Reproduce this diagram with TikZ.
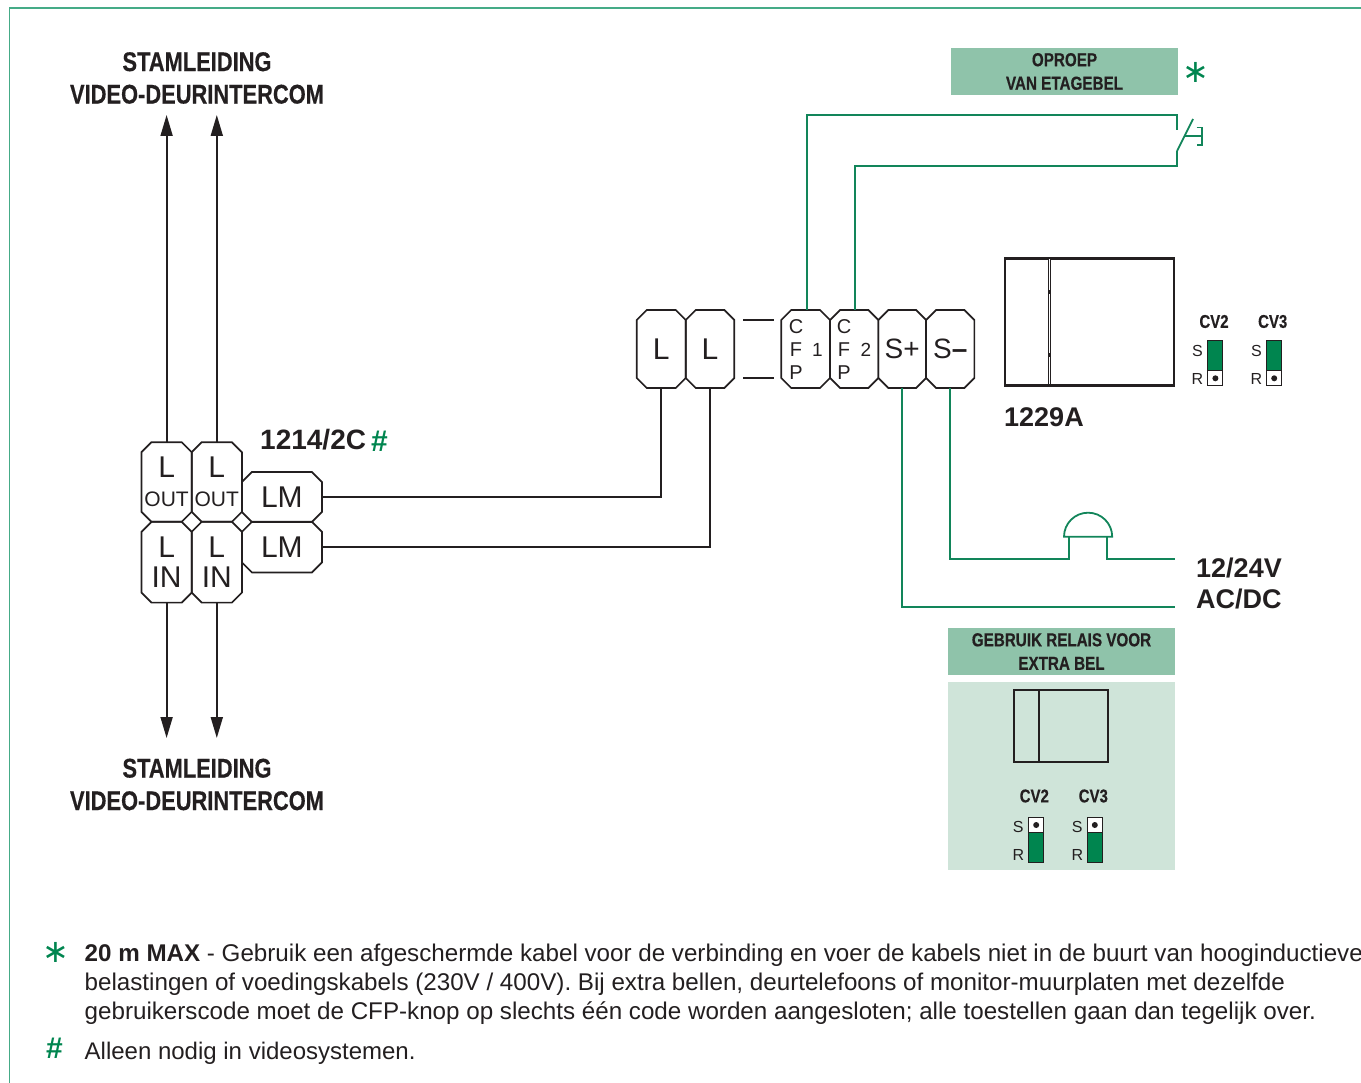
\documentclass[tikz,border=0pt]{standalone}
\usepackage{fontspec}
\setmainfont{Liberation Sans}
\newfontfamily\narrowfont{Liberation Sans}[FakeStretch=0.81,BoldFeatures={FakeBold=0.4}]
\newfontfamily\symfont{DejaVu Sans}
\usetikzlibrary{arrows.meta}
\definecolor{wiregreen}{HTML}{12855A}
\definecolor{jumpgreen}{HTML}{00854F}
\definecolor{framegreen}{HTML}{45AB87}
\definecolor{headgreen}{HTML}{8FC3AA}
\definecolor{palegreen}{HTML}{CFE4D9}
\definecolor{ink}{HTML}{231F20}
\newcommand{\fsz}[2]{\fontsize{#1}{#2}\selectfont}
% octagonal outline drawn on the corners of a named terminal node
\newcommand{\octagon}[1]{%
  \draw[termline]
    ([xshift=10pt]#1.north west) -- ([xshift=-10pt]#1.north east)
    -- ([yshift=-10pt]#1.north east) -- ([yshift=10pt]#1.south east)
    -- ([xshift=-10pt]#1.south east) -- ([xshift=10pt]#1.south west)
    -- ([yshift=10pt]#1.south west) -- ([yshift=-10pt]#1.north west) -- cycle;}
\tikzset{
  term/.style={rectangle,inner sep=0pt,outer sep=0pt,text=ink,align=center,font=\fsz{30}{30}},
  termline/.style={draw=ink,line width=1.7pt,line join=miter},
  wire/.style={draw=ink,line width=1.9pt},
  gwire/.style={draw=wiregreen,line width=1.8pt},
  headbox/.style={fill=headgreen,inner sep=0pt,outer sep=0pt,text=ink,align=center,font=\narrowfont\bfseries\fsz{18.8}{23.5}},
  title/.style={text=ink,align=center,inner sep=0pt,font=\narrowfont\bfseries\fsz{27}{32.5}},
  boldlabel/.style={text=ink,anchor=west,inner sep=0pt,align=left,font=\bfseries\fsz{27}{31}},
  cvlabel/.style={text=ink,inner sep=0pt,font=\narrowfont\bfseries\fsz{18.5}{18.5}},
  srlabel/.style={text=ink,inner sep=0pt,font=\fsz{16}{16}},
  device/.style={draw=ink,inner sep=0pt,outer sep=0pt},
  jumper/.style={draw=ink,fill=white,line width=1pt,inner sep=0pt,outer sep=0pt,minimum width=15pt,minimum height=45pt},
  jumpfill/.style={draw=ink,fill=jumpgreen,line width=1pt},
  jumpdot/.style={circle,fill=ink,inner sep=0pt,minimum size=6pt},
  bodytext/.style={text=ink,anchor=base west,inner sep=0pt,font=\fsz{24.18}{29}},
  sym/.style={text=jumpgreen,inner sep=0pt},
  stem/.style={wire,-{Triangle[length=21pt,width=12pt]}}
}
\begin{document}
\begin{tikzpicture}[x=1pt,y=-1pt]
\useasboundingbox (0,0) rectangle (1361,1083);
% frame
\coordinate (frameA) at (9.5,1083);
\coordinate (frameB) at (9.5,8);
\coordinate (frameC) at (1361,8);
\draw[framegreen,line width=1.1pt] (frameA) -- (frameB) -- (frameC);

% titles
\node[title] (toptitle) at (197,78) {STAMLEIDING\\VIDEO-DEURINTERCOM};
\node[title] (bottitle) at (197,784.5) {STAMLEIDING\\VIDEO-DEURINTERCOM};

% riser terminals
\node[term,minimum width=50.2pt,minimum height=79.6pt] (o1) at (166.6,482) {L\\[-0.5pt]{\fsz{21}{27}OUT}};
\node[term,minimum width=50.2pt,minimum height=79.6pt] (o2) at (216.8,482) {L\\[-0.5pt]{\fsz{21}{27}OUT}};
\node[term,minimum width=50.2pt,minimum height=80.8pt] (i1) at (166.6,562.2) {\fsz{30}{32}L\\IN};
\node[term,minimum width=50.2pt,minimum height=80.8pt] (i2) at (216.8,562.2) {\fsz{30}{32}L\\IN};
\node[term,minimum width=80pt,minimum height=50pt] (lm1) at (281.9,497) {LM};
\node[term,minimum width=80pt,minimum height=50.6pt] (lm2) at (281.9,547.1) {LM};
\foreach \t in {o1,o2,i1,i2,lm1,lm2} {\octagon{\t}}

% riser arrows
\coordinate (upA) at (166.6,115);
\coordinate (upB) at (216.8,115);
\coordinate (dnA) at (166.6,738);
\coordinate (dnB) at (216.8,738);
\draw[stem] (o1.north) -- (upA);
\draw[stem] (o2.north) -- (upB);
\draw[stem] (i1.south) -- (dnA);
\draw[stem] (i2.south) -- (dnB);

\node[boldlabel,font=\bfseries\fsz{28}{31}] (code1) at (260,440) {1214/2C};
\node[sym,font=\bfseries\fsz{30}{30},anchor=center] (code1m) at (379.5,441) {\#};

% monitor terminals
\node[term,minimum width=49pt,minimum height=78pt] (l1) at (661.2,349) {L};
\node[term,minimum width=48.6pt,minimum height=78pt] (l2) at (710,349) {L};
\node[term,minimum width=48.7pt,minimum height=78pt] (c1) at (805.6,349) {};
\node[term,minimum width=48.3pt,minimum height=78pt] (c2) at (854.2,349) {};
\node[term,minimum width=47.7pt,minimum height=78pt,font=\fsz{28}{28}] (sp) at (902.2,349) {S+};
\node[term,minimum width=48.3pt,minimum height=78pt,font=\fsz{28}{28}] (sm) at (950.2,349) {S{\bfseries –}};
\foreach \t in {l1,l2,c1,c2,sp,sm} {\octagon{\t}}

\node[text=ink,inner sep=0pt,align=center,font=\fsz{20}{22.7}] (c1t) at (796,349.5) {C\\F\\P};
\node[text=ink,inner sep=0pt,align=center,font=\fsz{20}{22.7}] (c2t) at (844,349.5) {C\\F\\P};
\node[text=ink,inner sep=0pt,font=\fsz{19}{19}] (c1n) at (817.5,350) {1};
\node[text=ink,inner sep=0pt,font=\fsz{19}{19}] (c2n) at (866,350) {2};

\coordinate (gapA1) at (743,320);
\coordinate (gapA2) at (774,320);
\coordinate (gapB1) at (743,378);
\coordinate (gapB2) at (774,378);
\draw[wire] (gapA1) -- (gapA2);
\draw[wire] (gapB1) -- (gapB2);

% backbone wires
\draw[wire] (lm1.east) -| (l1.south);
\draw[wire] (lm2.east) -| (l2.south);

% floor call
\node[headbox,minimum width=227pt,minimum height=47pt] (hd1) at (1064.5,71.5) {OPROEP\\VAN ETAGEBEL};
\node[sym,font=\symfont\fsz{32}{32}] (hd1m) at (1195.7,72) {∗};
\coordinate (swTop) at (1177,130);
\coordinate (swBot) at (1177,151);
\coordinate (swTip) at (1193,119);
\coordinate (swBar) at (1185,136);
\coordinate (swEnd) at (1201.7,136);
\draw[gwire] ([xshift=1pt]c1.north) |- (swTop |- 0,115) -- (swTop);
\draw[gwire] ([xshift=1pt]c2.north) |- (swBot |- 0,166) -- (swBot);
\draw[gwire] (swBot) -- (swTip);
\draw[gwire] (swBar) -- (swEnd);
\draw[gwire] (1196.7,127.5) -- (swEnd |- 0,127.5) -- (swEnd |- 0,145.3) -- (1196.7,145.3);

% device 1229A
\node[device,line width=2.6pt,minimum width=169pt,minimum height=127.4pt] (mon) at (1089.5,322) {};
\draw[ink,line width=2.8pt] (mon.north west -| 1049.5,0) -- (mon.south west -| 1049.5,0);
\draw[white,line width=1pt] (1049.5,259.5) -- (1049.5,290);
\draw[white,line width=1pt] (1049.5,294) -- (1049.5,353);
\draw[white,line width=1pt] (1049.5,357) -- (1049.5,384.5);
\node[boldlabel] (monl) at (1004,417) {1229A};

% jumpers of the device
\node[cvlabel] (cv2a) at (1214,321.5) {CV2};
\node[cvlabel] (cv3a) at (1272.7,321.5) {CV3};
\node[jumper] (ja) at (1215.4,363.3) {};
\node[jumper] (jb) at (1274.2,363.3) {};
\draw[jumpfill] (1207.9,341) rectangle (1222.9,370.7);
\draw[jumpfill] (1266.7,341) rectangle (1281.7,370.7);
\node[jumpdot] (da) at (1215.4,378.3) {};
\node[jumpdot] (db) at (1274.2,378.3) {};
\node[srlabel] (sa) at (1197.5,350.5) {S};
\node[srlabel] (ra) at (1197.5,378.5) {R};
\node[srlabel] (sb) at (1256.5,350.5) {S};
\node[srlabel] (rb) at (1256.5,378.5) {R};

% bell and supply
\coordinate (bellL) at (1069,559.3);
\coordinate (bellR) at (1107.3,559.3);
\coordinate (supA) at (1175,559.3);
\coordinate (supB) at (1175,607);
\draw[gwire] (sm.south) |- (bellL) -- (1069,536.7);
\draw[gwire] (1064,536.7) arc[start angle=180,end angle=0,x radius=24.1pt,y radius=24pt] -- cycle;
\draw[gwire] (1107.3,536.7) -- (bellR) -- (supA);
\draw[gwire] (sp.south) |- (supB);
\node[boldlabel] (volt) at (1196,583) {12/24V\\AC/DC};

% relay panel
\node[headbox,minimum width=227pt,minimum height=47pt] (hd2) at (1061.5,651.5) {GEBRUIK RELAIS VOOR\\EXTRA BEL};
\node[fill=palegreen,inner sep=0pt,outer sep=0pt,minimum width=227pt,minimum height=188pt] (panel) at (1061.5,776) {};
\node[device,line width=1.8pt,minimum width=94.6pt,minimum height=72pt] (rel) at (1061,726) {};
\draw[ink,line width=1.9pt] (1038.7,690) -- (1038.7,762);
\node[cvlabel] (cv2b) at (1034.3,796) {CV2};
\node[cvlabel] (cv3b) at (1093.3,796) {CV3};
\node[jumper] (jc) at (1036.2,839.5) {};
\node[jumper] (jd) at (1094.8,839.5) {};
\draw[jumpfill] (1028.7,832) rectangle (1043.7,862);
\draw[jumpfill] (1087.3,832) rectangle (1102.3,862);
\node[jumpdot] (dc) at (1036.2,825) {};
\node[jumpdot] (dd) at (1094.8,825) {};
\node[srlabel] (sc) at (1018.3,826.5) {S};
\node[srlabel] (rc) at (1018.3,854.5) {R};
\node[srlabel] (sd) at (1077.3,826.5) {S};
\node[srlabel] (rd) at (1077.3,854.5) {R};

% notes
\node[sym,font=\symfont\fsz{32}{32}] (n1m) at (56,952) {∗};
\node[bodytext] (n1) at (84.5,961) {{\bfseries 20 m MAX} - Gebruik een afgeschermde kabel voor de verbinding en voer de kabels niet in de buurt van hooginductieve};
\node[bodytext] (n2) at (84.5,990) {belastingen of voedingskabels (230V / 400V). Bij extra bellen, deurtelefoons of monitor-muurplaten met dezelfde};
\node[bodytext] (n3) at (84.5,1019) {gebruikerscode moet de CFP-knop op slechts één code worden aangesloten; alle toestellen gaan dan tegelijk over.};
\node[sym,font=\bfseries\fsz{30}{30}] (n4m) at (54.5,1048) {\#};
\node[bodytext,font=\fsz{24}{29}] (n4) at (84.5,1059) {Alleen nodig in videosystemen.};
\end{tikzpicture}
\end{document}
